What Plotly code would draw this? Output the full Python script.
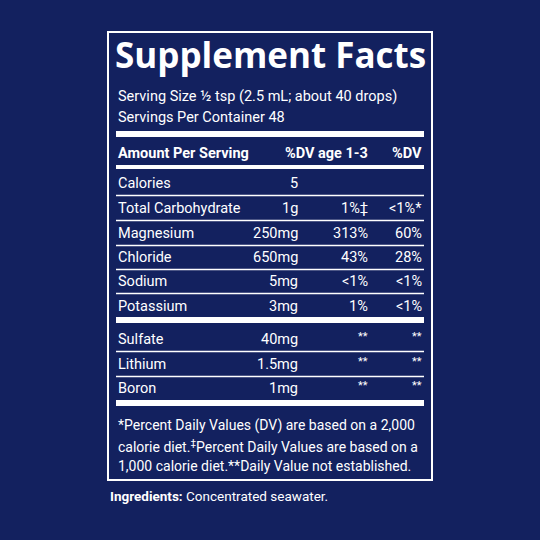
import plotly.graph_objects as go

nutrients = ["Calories", "Total Carbohydrate", "Magnesium", "Chloride", "Sodium", "Potassium"]
amounts = ["5", "1g", "250mg", "650mg", "5mg", "3mg"]
dv_child = ["", "1%‡", "313%", "43%", "<1%", "1%"]
dv_adult = ["", "<1%*", "60%", "28%", "<1%", "<1%"]
others = ["Sulfate", "Lithium", "Boron"]
other_amounts = ["40mg", "1.5mg", "1mg"]
other_dv_child = ["**", "**", "**"]
other_dv_adult = ["**", "**", "**"]

BG = "#13215f"
W = "white"
FONT = "Roboto"
fig = go.Figure()
shapes = []
ann = []

def text(x, y, t, size=14.5, anchor="left", bold=False, family=FONT):
    if bold:
        t = "<b>" + t + "</b>"
    ann.append(dict(x=x, y=y, text=t, showarrow=False, xanchor=anchor, yanchor="middle",
                    font=dict(color=W, size=size, family=family), xref="x", yref="y"))

def bar(y0, y1):
    shapes.append(dict(type="rect", x0=116, x1=424, y0=y0, y1=y1, fillcolor=W, line=dict(width=0)))

def hline(y):
    shapes.append(dict(type="line", x0=116, x1=424, y0=y, y1=y, line=dict(color=W, width=1.3)))

shapes.append(dict(type="rect", x0=108, x1=432, y0=32, y1=480, line=dict(color=W, width=2)))
text(270, 54, "Supplement Facts", size=35, anchor="center", bold=True, family="Open Sans")
text(116, 96, "Serving Size ½ tsp (2.5 mL; about 40 drops)")
text(116, 117, "Servings Per Container 48")
bar(131, 137)
text(116, 153, "Amount Per Serving", bold=True)
text(370, 153, "%DV age 1-3", bold=True, anchor="right")
text(424, 153, "%DV", bold=True, anchor="right")
bar(165, 169)

row_y = [183, 208, 233, 257, 281, 306]
for i, n in enumerate(nutrients):
    y = row_y[i]
    text(116, y, n)
    text(300, y, amounts[i], anchor="right")
    text(370, y, dv_child[i], anchor="right")
    text(424, y, dv_adult[i], anchor="right")
    if i < len(nutrients) - 1:
        hline(y + 12.5)
bar(317, 323)
row_y2 = [339, 364, 388]
for i, n in enumerate(others):
    y = row_y2[i]
    text(116, y, n)
    text(300, y, other_amounts[i], anchor="right")
    text(370, y - 3, other_dv_child[i], anchor="right", size=11)
    text(424, y - 3, other_dv_adult[i], anchor="right", size=11)
    if i < len(others) - 1:
        hline(y + 12.5)
bar(400, 406)
text(116, 425, "*Percent Daily Values (DV) are based on a 2,000", size=14)
text(116, 446, "calorie diet.<sup>‡</sup>Percent Daily Values are based on a", size=14)
text(116, 466, "1,000 calorie diet.**Daily Value not established.", size=14)
text(108, 496, "<b>Ingredients:</b> Concentrated seawater.", size=13.5)

fig.update_layout(width=540, height=540, margin=dict(l=0, r=0, t=0, b=0),
                  paper_bgcolor=BG, plot_bgcolor=BG, shapes=shapes, annotations=ann,
                  xaxis=dict(range=[0, 540], visible=False, fixedrange=True),
                  yaxis=dict(range=[540, 0], visible=False, fixedrange=True),
                  showlegend=False)
fig.write_html("out.html", config={"displayModeBar": False},
               post_script="document.body.style.margin='0';document.body.style.overflow='hidden';document.body.style.background='%s';" % BG)
